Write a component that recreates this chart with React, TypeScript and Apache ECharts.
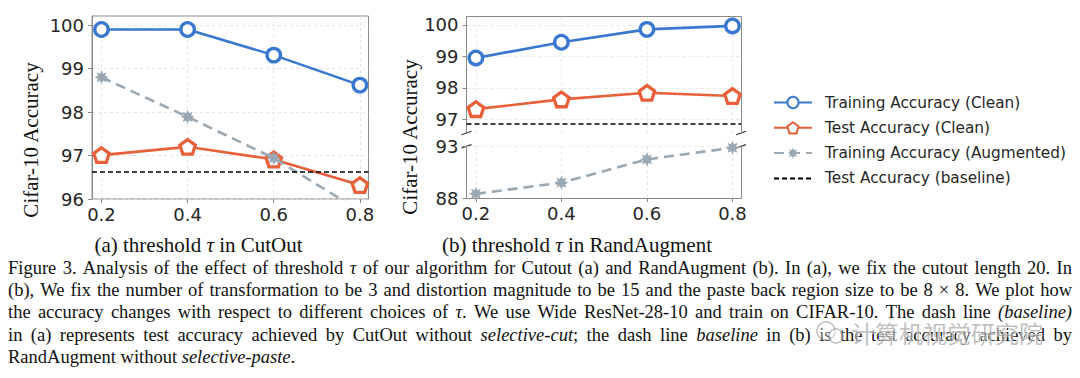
import React, { useEffect, useRef } from 'react';
import * as echarts from 'echarts';

// ---------- data ----------
const taus = [0.2, 0.4, 0.6, 0.8];
const cutTrainClean = [99.9, 99.9, 99.31, 98.62];
const cutTestClean = [97.01, 97.2, 96.91, 96.32];
const cutTrainAug = [98.8, 97.89, 96.94, 95.73];
const cutBaseline = 96.63;
const raTrainClean = [98.95, 99.45, 99.86, 99.97];
const raTestClean = [97.32, 97.63, 97.84, 97.74];
const raTrainAug = [88.41, 89.49, 91.75, 92.88];
const raBaseline = 96.84;
const leftYTicks = [96, 97, 98, 99, 100];
const upperYTicks = [97, 98, 99, 100];
const lowerYTicks = [88, 93];
const seriesNames = [
  'Training Accuracy (Clean)',
  'Test Accuracy (Clean)',
  'Training Accuracy (Augmented)',
  'Test Accuracy (baseline)',
];
const yTitle = 'Cifar-10 Accuracy';
const subCaptions = ['(a) threshold {i|τ} in CutOut', '(b) threshold {i|τ} in RandAugment'];
const captionLines = [
  'Figure 3. Analysis of the effect of threshold _τ_ of our algorithm for Cutout (a) and RandAugment (b). In (a), we fix the cutout length 20. In',
  '(b), We fix the number of transformation to be 3 and distortion magnitude to be 15 and the paste back region size to be 8 × 8. We plot how',
  'the accuracy changes with respect to different choices of _τ_. We use Wide ResNet-28-10 and train on CIFAR-10. The dash line _(baseline)_',
  'in (a) represents test accuracy achieved by CutOut without _selective-cut_; the dash line _baseline_ in (b) is the test accuracy achieved by',
  'RandAugment without _selective-paste_.',
];
const watermark = '计算机视觉研究院';

// ---------- styles ----------
const BLUE = '#3878d0';
const ORANGE = '#e8603a';
const GRAY = '#9aa8b3';
const FRAME = '#8a8a8a';
const GRIDLINE = '#e0e0e0';
const TEXT = '#262626';
const SANS = 'DejaVu Sans';
const SERIF = 'Liberation Serif';
const X_MIN = 0.178;
const X_MAX = 0.82;

function starPath(n: number, inner: number) {
  const pts: string[] = [];
  for (let k = 0; k < 2 * n; k++) {
    const r = k % 2 === 0 ? 1 : inner;
    const a = -Math.PI / 2 + (k * Math.PI) / n;
    pts.push(`${(50 + 50 * r * Math.cos(a)).toFixed(2)},${(50 + 50 * r * Math.sin(a)).toFixed(2)}`);
  }
  return 'path://M' + pts.join('L') + 'Z';
}
function polygonPath(n: number) {
  const pts: string[] = [];
  for (let k = 0; k < n; k++) {
    const a = -Math.PI / 2 + (k * 2 * Math.PI) / n;
    pts.push(`${(50 + 50 * Math.cos(a)).toFixed(2)},${(50 + 50 * Math.sin(a)).toFixed(2)}`);
  }
  return 'path://M' + pts.join('L') + 'Z';
}
const PENTA = polygonPath(5);
const STAR = starPath(8, 0.55);

const pairs = (vals: number[]) => taus.map((t, i) => [t, vals[i]]);

function xAxis(gridIndex: number, labels: boolean, frameLine: boolean) {
  return {
    type: 'value',
    gridIndex,
    min: X_MIN,
    max: X_MAX,
    position: 'bottom',
    axisLine: { show: frameLine, onZero: false, lineStyle: { color: FRAME, width: 1 } },
    axisTick: { show: labels, length: 4, customValues: taus, lineStyle: { color: FRAME } },
    axisLabel: {
      show: labels,
      customValues: taus,
      formatter: (v: number) => v.toFixed(1),
      fontFamily: SANS,
      fontSize: 18,
      color: TEXT,
      margin: 6,
    },
    splitLine: { show: true, lineStyle: { color: GRIDLINE, type: [3, 3], width: 0.8 } },
  };
}
function frameAxis(gridIndex: number, position: string) {
  return {
    type: 'value', gridIndex, min: 0, max: 1, position,
    axisLine: { show: true, onZero: false, lineStyle: { color: FRAME, width: 1 } },
    axisTick: { show: false }, axisLabel: { show: false }, splitLine: { show: false },
  };
}
function yAxis(gridIndex: number, min: number, max: number, ticks: number[]) {
  return {
    type: 'value',
    gridIndex,
    min,
    max,
    position: 'left',
    axisLine: { show: true, onZero: false, lineStyle: { color: FRAME, width: 1 } },
    axisTick: { show: true, length: 4, customValues: ticks, lineStyle: { color: FRAME } },
    axisLabel: { customValues: ticks, fontFamily: SANS, fontSize: 18, color: TEXT, margin: 8 },
    splitLine: { show: true, lineStyle: { color: GRIDLINE, type: [3, 3], width: 0.8 } },
  };
}

function trainClean(data: number[], xi: number, yi: number) {
  return {
    name: seriesNames[0], type: 'line', xAxisIndex: xi, yAxisIndex: yi, data: pairs(data),
    symbol: 'circle', symbolSize: 13.5, z: 3,
    lineStyle: { color: BLUE, width: 2.6 },
    itemStyle: { color: '#ffffff', borderColor: BLUE, borderWidth: 3.3 },
  };
}
function testClean(data: number[], xi: number, yi: number) {
  return {
    name: seriesNames[1], type: 'line', xAxisIndex: xi, yAxisIndex: yi, data: pairs(data),
    symbol: PENTA, symbolSize: 15.5, symbolKeepAspect: true, z: 3,
    lineStyle: { color: ORANGE, width: 2.6 },
    itemStyle: { color: '#ffffff', borderColor: ORANGE, borderWidth: 3.3 },
  };
}
function trainAug(data: number[], xi: number, yi: number) {
  return {
    name: seriesNames[2], type: 'line', xAxisIndex: xi, yAxisIndex: yi, data: pairs(data),
    symbol: STAR, symbolSize: 14, z: 4,
    lineStyle: { color: GRAY, width: 2.6, type: [10, 6] },
    itemStyle: { color: GRAY },
  };
}
function baseline(v: number, xi: number, yi: number) {
  return {
    name: seriesNames[3], type: 'line', xAxisIndex: xi, yAxisIndex: yi, data: [],
    symbol: 'none', z: 5,
    lineStyle: { color: '#000000', width: 1.5, type: [5, 3] },
    itemStyle: { color: '#000000' },
    markLine: {
      silent: true, symbol: 'none', label: { show: false },
      lineStyle: { color: '#000000', width: 1.5, type: [5, 3] },
      data: [{ yAxis: v }],
    },
  };
}

// ---------- caption layout ----------
const CAP_LEFT = 8;
const CAP_RIGHT = 1072;
const CAP_SIZE = 18.5;
const CAP_Y0 = 267.5;
const CAP_DY = 22.4;

function buildCaption() {
  const canvas = document.createElement('canvas');
  const ctx = canvas.getContext('2d')!;
  const measure = (t: string, it: boolean) => {
    ctx.font = `${it ? 'italic ' : ''}${CAP_SIZE}px "${SERIF}"`;
    return ctx.measureText(t).width;
  };
  const els: any[] = [];
  captionLines.forEach((line, li) => {
    const words = line.split(' ');
    const segsList = words.map((w) =>
      w.split(/(_[^_]+_)/).filter((s) => s.length > 0).map((s) =>
        s.length > 2 && s.startsWith('_') && s.endsWith('_') ? { t: s.slice(1, -1), it: true } : { t: s, it: false }
      )
    );
    const widths = segsList.map((segs) => segs.reduce((a, s) => a + measure(s.t, s.it), 0));
    const total = widths.reduce((a, b) => a + b, 0);
    const justify = li < captionLines.length - 1;
    const gap = justify ? (CAP_RIGHT - CAP_LEFT - total) / (words.length - 1) : measure(' ', false);
    let x = CAP_LEFT;
    const y = CAP_Y0 + li * CAP_DY;
    segsList.forEach((segs, wi) => {
      let sx = x;
      segs.forEach((s) => {
        els.push({
          type: 'text', x: sx, y, silent: true,
          style: {
            text: s.t, fontFamily: SERIF, fontSize: CAP_SIZE, fontStyle: s.it ? 'italic' : 'normal',
            fill: '#111111', align: 'left', verticalAlign: 'middle',
          },
        });
        sx += measure(s.t, s.it);
      });
      x += widths[wi] + gap;
    });
  });
  return els;
}

function breakMarks() {
  const mk = (x: number, y: number) => ({
    type: 'line', silent: true,
    shape: { x1: x - 5, y1: y + 1.7, x2: x + 5, y2: y - 1.7 },
    style: { stroke: '#333333', lineWidth: 1.2 },
  });
  return [mk(466.5, 133), mk(741, 133), mk(466.5, 146.3), mk(741, 146.3)];
}

function watermarkEls() {
  return [
    {
      type: 'circle', silent: true, z: 100,
      shape: { cx: 826, cy: 331, r: 9 },
      style: { fill: 'rgba(255,255,255,0.35)', stroke: 'rgba(150,150,150,0.55)', lineWidth: 1.6 },
    },
    {
      type: 'circle', silent: true, z: 100,
      shape: { cx: 836, cy: 336, r: 7 },
      style: { fill: 'rgba(255,255,255,0.35)', stroke: 'rgba(150,150,150,0.55)', lineWidth: 1.6 },
    },
    {
      type: 'text', x: 851, y: 332, silent: true, z: 100,
      style: {
        text: watermark, fontFamily: 'Noto Sans CJK SC', fontSize: 24, fill: 'rgba(140,140,140,0.55)',
        stroke: 'rgba(255,255,255,0.7)', lineWidth: 1.2, align: 'left', verticalAlign: 'middle',
      },
    },
  ];
}

export default function App() {
  const ref = useRef<HTMLDivElement>(null);
  useEffect(() => {
    if (!ref.current) return;
    const chart = echarts.init(ref.current, undefined, { renderer: 'svg' });
    const richI = { i: { fontStyle: 'italic', fontFamily: SERIF, fontSize: 21, fill: '#111111' } };
    chart.setOption({
      animation: false,
      backgroundColor: '#ffffff',
      grid: [
        { left: 92, top: 16, width: 276.5, height: 183, show: true, borderColor: FRAME, borderWidth: 1, containLabel: false, outerBoundsMode: 'none' },
        { left: 466.5, top: 16.5, width: 274.5, height: 116.5, containLabel: false, outerBoundsMode: 'none' },
        { left: 466.5, top: 146, width: 274.5, height: 52, containLabel: false, outerBoundsMode: 'none' },
      ],
      xAxis: [
        xAxis(0, true, false),
        xAxis(1, false, false),
        xAxis(2, true, true),
        frameAxis(1, 'top'),
      ],
      yAxis: [
        yAxis(0, 96, 100.21, leftYTicks),
        yAxis(1, 96.56, 100.27, upperYTicks),
        yAxis(2, 88, 93.05, lowerYTicks),
        frameAxis(1, 'right'),
        frameAxis(2, 'right'),
      ],
      legend: {
        orient: 'vertical',
        left: 773,
        top: 95,
        padding: 0,
        itemWidth: 38,
        itemHeight: 14,
        itemGap: 10.3,
        selectedMode: false,
        data: [
          seriesNames[0],
          seriesNames[1],
          seriesNames[2],
          { name: seriesNames[3], itemStyle: { opacity: 0 } },
        ],
        textStyle: { fontFamily: SANS, fontSize: 15.3, color: TEXT, padding: [0, 0, 0, 8] },
      },
      series: [
        trainClean(cutTrainClean, 0, 0),
        testClean(cutTestClean, 0, 0),
        trainAug(cutTrainAug, 0, 0),
        baseline(cutBaseline, 0, 0),
        trainClean(raTrainClean, 1, 1),
        testClean(raTestClean, 1, 1),
        trainAug(raTrainAug, 2, 2),
        baseline(raBaseline, 1, 1),
      ],
      graphic: [
        {
          type: 'text', x: 31, y: 140, rotation: Math.PI / 2, silent: true,
          style: { text: yTitle, fontFamily: SERIF, fontSize: 21, fill: '#111111', align: 'center', verticalAlign: 'middle' },
        },
        {
          type: 'text', x: 410, y: 137, rotation: Math.PI / 2, silent: true,
          style: { text: yTitle, fontFamily: SERIF, fontSize: 21, fill: '#111111', align: 'center', verticalAlign: 'middle' },
        },
        {
          type: 'text', x: 198.5, y: 245, silent: true,
          style: { text: subCaptions[0], rich: richI, fontFamily: SERIF, fontSize: 21, fill: '#111111', align: 'center', verticalAlign: 'middle' },
        },
        {
          type: 'text', x: 577, y: 245, silent: true,
          style: { text: subCaptions[1], rich: richI, fontFamily: SERIF, fontSize: 21, fill: '#111111', align: 'center', verticalAlign: 'middle' },
        },
        ...breakMarks(),
        ...buildCaption(),
        ...watermarkEls(),
      ],
    });
    return () => chart.dispose();
  }, []);
  return <div ref={ref} style={{ position: 'fixed', left: 0, top: 0, width: 1080, height: 378, background: '#fff' }} />;
}
